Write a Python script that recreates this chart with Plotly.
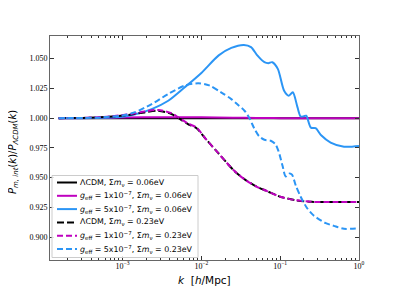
import plotly.graph_objects as go

# ---------------- data ----------------
# log10(k) grids and ratio values P_m,int(k)/P_LCDM(k)
logk_flat = [-3.81, -3.0, -2.0, -1.0, 0.0]
lcdm_006 = [1.000, 1.000, 1.000, 1.000, 1.000]

logk_g1_006 = [-3.81, -3.3, -3.0, -2.5, -2.0, -1.6, -1.3, -1.0, 0.0]
g1_006 = [1.000, 1.0002, 1.0005, 1.0008, 1.0007, 1.0004, 1.0001, 1.000, 1.000]

logk_g5_006 = [-3.81, -3.5, -3.27, -3.0, -2.85, -2.63, -2.42, -2.21, -2.0, -1.78,
               -1.62, -1.46, -1.37, -1.29, -1.20, -1.15, -1.10, -1.03, -0.95, -0.89,
               -0.84, -0.78, -0.74, -0.70, -0.67, -0.61, -0.55, -0.48, -0.36, -0.19, 0.0]
g5_006 = [1.000, 1.000, 1.0003, 1.0012, 1.003, 1.0076, 1.0146, 1.026, 1.038, 1.0527,
          1.059, 1.0615, 1.0597, 1.0527, 1.047, 1.0462, 1.047, 1.0414, 1.023, 1.0188,
          1.0217, 1.009, 1.0014, 1.0016, 1.002, 0.992, 0.9915, 0.9856, 0.9795, 0.976, 0.9766]

logk_023 = [-3.81, -3.5, -3.2, -2.95, -2.72, -2.55, -2.38, -2.29, -2.17, -2.06,
            -1.95, -1.79, -1.58, -1.45, -1.30, -1.16, -1.0, -0.8, -0.6, -0.3, 0.0]
lcdm_023 = [1.000, 1.0002, 1.001, 1.0025, 1.0048, 1.0062, 1.0035, 1.000, 0.995, 0.9915,
            0.983, 0.971, 0.9555, 0.9485, 0.9425, 0.9385, 0.934, 0.931, 0.9297, 0.9295, 0.9295]
g1_023 = [1.000, 1.0002, 1.0012, 1.003, 1.0055, 1.0069, 1.0042, 1.0006, 0.9955, 0.992,
          0.983, 0.971, 0.9555, 0.9485, 0.9425, 0.9385, 0.934, 0.931, 0.9297, 0.9295, 0.9295]

logk_g5_023 = [-3.81, -3.5, -3.27, -3.0, -2.85, -2.63, -2.42, -2.21, -2.04, -1.90,
               -1.75, -1.62, -1.54, -1.45, -1.39, -1.33, -1.27, -1.20, -1.12, -1.06,
               -1.02, -0.97, -0.93, -0.88, -0.85, -0.80, -0.74, -0.66, -0.58, -0.53,
               -0.43, -0.32, -0.19, 0.0]
g5_023 = [1.000, 1.0001, 1.0006, 1.0022, 1.0048, 1.0118, 1.0203, 1.0273, 1.0293, 1.0275,
          1.0217, 1.016, 1.0115, 1.006, 1.000, 0.9915, 0.985, 0.9818, 0.981, 0.978,
          0.972, 0.960, 0.951, 0.9535, 0.9525, 0.943, 0.934, 0.9245, 0.9185, 0.916,
          0.912, 0.9095, 0.907, 0.9076]

legend_labels = [
    "ΛCDM, Σ<i>m</i><sub>ν</sub> = 0.06eV",
    "<i>g</i><sub>eff</sub> = 1x10<sup>−7</sup>, Σ<i>m</i><sub>ν</sub> = 0.06eV",
    "<i>g</i><sub>eff</sub> = 5x10<sup>−7</sup>, Σ<i>m</i><sub>ν</sub> = 0.06eV",
    "ΛCDM, Σ<i>m</i><sub>ν</sub> = 0.23eV",
    "<i>g</i><sub>eff</sub> = 1x10<sup>−7</sup>, Σ<i>m</i><sub>ν</sub> = 0.23eV",
    "<i>g</i><sub>eff</sub> = 5x10<sup>−7</sup>, Σ<i>m</i><sub>ν</sub> = 0.23eV",
]

x_major = [1e-3, 1e-2, 1e-1, 1e0]
x_major_text = ["10<sup>−3</sup>", "10<sup>−2</sup>", "10<sup>−1</sup>", "10<sup>0</sup>"]
y_ticks = [0.900, 0.925, 0.950, 0.975, 1.000, 1.025, 1.050]

x_title = "<i>k</i>  [<i>h</i>/Mpc]"
y_title = "<i>P</i><sub><i>m, int</i></sub>(<i>k</i>)/<i>P</i><sub><i>ΛCDM</i></sub>(<i>k</i>)"

# ---------------- styling ----------------
BLACK = "black"
MAG = "#bf00bf"
BLUE = "#2b95f5"
DASH = "6px,3px"

series = [
    (logk_flat, lcdm_006, BLACK, "solid"),
    (logk_g1_006, g1_006, MAG, "solid"),
    (logk_g5_006, g5_006, BLUE, "solid"),
    (logk_023, lcdm_023, BLACK, "7px,3px"),
    (logk_023, g1_023, MAG, DASH),
    (logk_g5_023, g5_023, BLUE, DASH),
]

fig = go.Figure()
for (lk, v, c, d), name in zip(series, legend_labels):
    fig.add_trace(go.Scatter(
        x=[10 ** a for a in lk], y=v, mode="lines", name=name,
        line=dict(color=c, width=2, dash=d, shape="spline", smoothing=0.8),
        showlegend=False,
    ))

# plot area geometry in screenshot pixels (page body has an 8px margin)
OFF = 8
L, R, T, B = 50, 359, 36, 260
W, H = 399 - 2 * OFF, 299 - 2 * OFF

def px(xp):
    return (xp - L) / (R - L)

def py(yp):
    return (B - yp) / (B - T)

shapes = [dict(type="rect", xref="paper", yref="paper",
               x0=px(52), x1=px(198), y0=py(257.5), y1=py(175.5),
               line=dict(color="#cccccc", width=1), fillcolor="rgba(255,255,255,0.85)",
               layer="above")]
annotations = []
row_y = [182.5, 195.8, 209.1, 222.4, 235.7, 249.0]
for (lk, v, c, d), label, ry in zip(series, legend_labels, row_y):
    shapes.append(dict(type="line", xref="paper", yref="paper",
                       x0=px(57), x1=px(77), y0=py(ry), y1=py(ry),
                       line=dict(color=c, width=2, dash=d), layer="above"))
    annotations.append(dict(xref="paper", yref="paper", x=px(80), y=py(ry),
                            text=label, showarrow=False, xanchor="left", yanchor="middle",
                            xshift=-2, font=dict(family="DejaVu Sans", size=7.9, color="black")))

annotations.append(dict(xref="paper", yref="paper", x=px(204), y=py(280), text=x_title,
                        showarrow=False, xanchor="center", yanchor="middle",
                        font=dict(family="DejaVu Sans", size=10.5, color="black")))
annotations.append(dict(xref="paper", yref="paper", x=px(13), y=py(152), text=y_title,
                        showarrow=False, xanchor="center", yanchor="middle", textangle=-90,
                        font=dict(family="DejaVu Sans", size=10, color="black")))

minor_vals = [m * 10 ** e for e in range(-4, 0) for m in range(2, 10)
              if m * 10 ** e >= 1.2e-4]

axis_common = dict(showline=True, linecolor="#666666", linewidth=1, mirror="allticks",
                   ticks="inside", tickcolor="#333333", tickwidth=1, showgrid=False,
                   zeroline=False,
                   tickfont=dict(family="Liberation Serif", size=8, color="black"))

fig.update_xaxes(type="log", range=[-3.92, 0.0], tickmode="array", tickvals=x_major,
                 ticktext=x_major_text, ticklen=4, ticklabelstandoff=-2,
                 minor=dict(tickmode="array", tickvals=minor_vals, ticks="inside",
                            ticklen=2, tickcolor="#333333", showgrid=False),
                 **axis_common)
fig.update_yaxes(range=[0.8808, 1.069], tickmode="array", tickvals=y_ticks,
                 tickformat=".3f", ticklen=4,
                 **axis_common)

fig.update_layout(width=W, height=H,
                  margin=dict(l=L - OFF, r=W - (R - OFF), t=T - OFF, b=H - (B - OFF),
                              autoexpand=False),
                  paper_bgcolor="white", plot_bgcolor="white", showlegend=False,
                  shapes=shapes, annotations=annotations)

fig.write_html("out.html")
